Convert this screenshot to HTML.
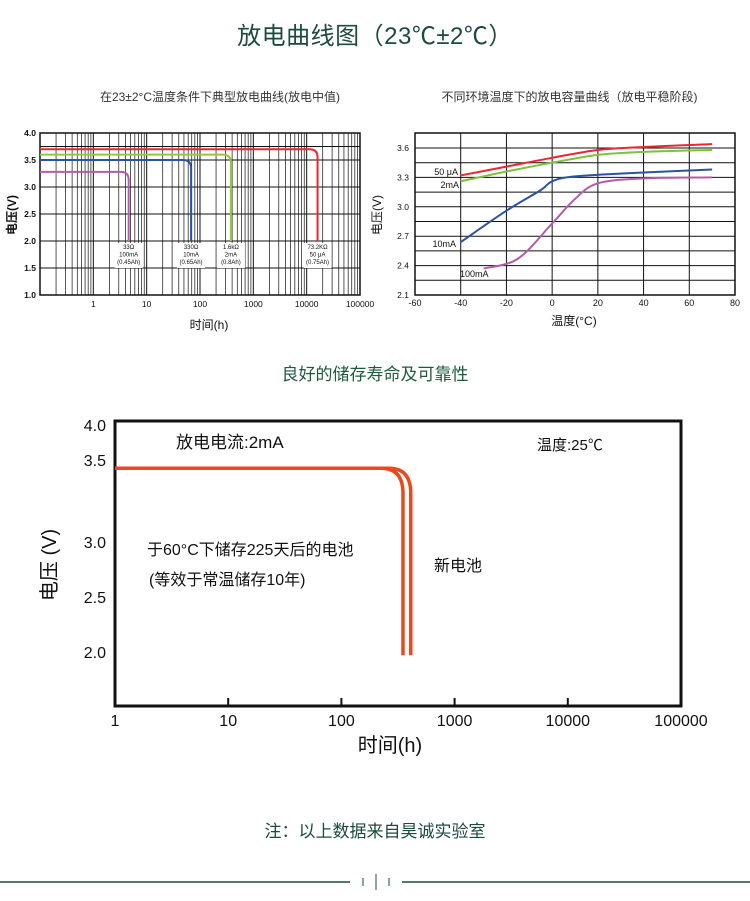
<!DOCTYPE html>
<html><head><meta charset="utf-8">
<style>
html,body{margin:0;padding:0;background:#fff;}
body{width:750px;height:901px;position:relative;overflow:hidden;font-family:"Liberation Sans","Noto Sans CJK SC",sans-serif;}
.t{position:absolute;white-space:nowrap;}
</style></head>
<body>
<div class="t" style="left:0;width:750px;text-align:center;top:16px;font-size:24px;color:#1d4a3e;letter-spacing:0.5px;">放电曲线图（23℃±2℃）</div>
<div class="t" style="left:92px;width:256px;text-align:center;top:88px;font-size:12px;color:#333;">在23±2°C温度条件下典型放电曲线(放电中值)</div>
<div class="t" style="left:432px;width:275px;text-align:center;top:88px;font-size:12px;color:#333;">不同环境温度下的放电容量曲线（放电平稳阶段)</div>
<div class="t" style="left:0;width:750px;text-align:center;top:360px;font-size:17px;color:#1d5a40;">良好的储存寿命及可靠性</div>
<div class="t" style="left:0;width:750px;text-align:center;top:817px;font-size:17px;color:#1d4a3e;">注：以上数据来自昊诚实验室</div>

<svg id="svg" width="750" height="901" style="position:absolute;left:0;top:0;" xmlns="http://www.w3.org/2000/svg"></svg>

<script>
// ---- Left chart data (discharge at 23°C) ----
const lcLoads = ["33Ω","330Ω","1.6kΩ","73.2KΩ"];
const lcCurrents = ["100mA","10mA","2mA","50 μA"];
const lcCaps = ["(0.45Ah)","(0.65Ah)","(0.8Ah)","(0.75Ah)"];
const lcPlateau = [3.28, 3.5, 3.6, 3.7];
const lcEndHours = [4.6, 68, 380, 16000];
const lcColors = ["#b45cab","#2b53a0","#94c83c","#e8272e"];
const lcYTicks = [1.0,1.5,2.0,2.5,3.0,3.5,4.0];
const lcXTicks = [1,10,100,1000,10000,100000];

// ---- Right chart data (voltage vs temperature) ----
const rcNames = ["50 μA","2mA","10mA","100mA"];
const rcTemps50uA = [-40,-20,0,20,40,70];
const rcVolts50uA = [3.32,3.41,3.50,3.58,3.61,3.64];
const rcTemps2mA = [-40,-20,0,20,40,70];
const rcVolts2mA = [3.26,3.36,3.45,3.53,3.56,3.58];
const rcTemps10mA = [-40,-20,-5,0,10,40,70];
const rcVolts10mA = [2.64,2.96,3.17,3.26,3.31,3.35,3.38];
const rcTemps100mA = [-30,-15,0,10,20,40,70];
const rcVolts100mA = [2.37,2.47,2.83,3.08,3.24,3.29,3.30];
const rcXTicks = [-60,-40,-20,0,20,40,60,80];
const rcYTicks = [2.1,2.4,2.7,3.0,3.3,3.6];

// ---- Bottom chart data (storage) ----
const bcYTicks = [2.0,2.5,3.0,3.5,4.0];
const bcXTicks = [1,10,100,1000,10000,100000];
const bcPlateau = [3.45, 3.45];
const bcEndHours = [350, 410];

const NS="http://www.w3.org/2000/svg";
const svg=document.getElementById('svg');
function mk(tag,attrs,parent){const e=document.createElementNS(NS,tag);for(const k in attrs)e.setAttribute(k,attrs[k]);(parent||svg).appendChild(e);return e;}
function txt(x,y,s,size,anchor,extra){const e=mk('text',Object.assign({x:x,y:y,'font-size':size,'text-anchor':anchor||'middle','font-family':'"Liberation Sans","Noto Sans CJK SC",sans-serif',fill:'#111'},extra||{}));e.textContent=s;return e;}
function smooth(pts){let d='M'+pts[0][0]+','+pts[0][1];for(let i=0;i<pts.length-1;i++){const p0=pts[i-1]||pts[i],p1=pts[i],p2=pts[i+1],p3=pts[i+2]||p2;const c1x=p1[0]+(p2[0]-p0[0])/6,c1y=p1[1]+(p2[1]-p0[1])/6,c2x=p2[0]-(p3[0]-p1[0])/6,c2y=p2[1]-(p3[1]-p1[1])/6;d+=' C'+c1x+','+c1y+' '+c2x+','+c2y+' '+p2[0]+','+p2[1];}return d;}

// ===== Left chart =====
const L={x0:40,x1:360,y0:133,y1:295};
const lx=h=>L.x0+(Math.log10(h)+1)/6*(L.x1-L.x0);
const ly=v=>L.y1-(v-1)/3*(L.y1-L.y0);
let g=mk('g',{});


for(let d=-1;d<5;d++)for(let m=1;m<=9;m++){const h=m*Math.pow(10,d);const x=lx(h);mk('line',{x1:x,x2:x,y1:L.y0,y2:L.y1,stroke:'#111','stroke-width':m==1?1:0.7},g);}
[1.0,1.5,2.0,2.5,3.0,3.5,3.75,4.0].forEach(v=>mk('line',{x1:L.x0,x2:L.x1,y1:ly(v),y2:ly(v),stroke:'#111','stroke-width':1},g));
mk('rect',{x:L.x0,y:L.y0,width:L.x1-L.x0,height:L.y1-L.y0,fill:'none',stroke:'#111','stroke-width':1.5},g);
lcYTicks.forEach(v=>{const t=txt(36,ly(v)+3,v.toFixed(1),8.5,'end',{'font-weight':'bold'});});
lcXTicks.forEach(h=>{const t=txt(lx(h),307,String(h),8.5,'middle');});
lcPlateau.forEach((v,i)=>{const xe=lx(lcEndHours[i]);const xb=xe-8;
 const p=mk('path',{d:'M'+L.x0+','+ly(v)+' L'+xb+','+ly(v)+' Q'+xe+','+ly(v)+' '+xe+','+(ly(v)+8)+' L'+xe+','+ly(2.0),fill:'none',stroke:lcColors[i],'stroke-width':2},g);
 
 
 mk('rect',{x:xe-14,y:ly(2.0)+2,width:28,height:25,fill:'#fff'},g);
 [lcLoads[i],lcCurrents[i],lcCaps[i]].forEach((s,k)=>txt(xe,ly(2.0)+8+k*7.5,s,6,'middle'));
});
txt(16,215,'电压(V)',12,'middle',{transform:'rotate(-90 16 215)','font-weight':'bold'});
txt(209,329,'时间(h)',12,'middle');

// ===== Right chart =====
const R={x0:415,x1:735,y0:133,y1:295};
const rx=t=>R.x0+(t+60)/140*(R.x1-R.x0);
const ry=v=>R.y1-(v-2.1)/1.5*(147);
g=mk('g',{});


rcXTicks.forEach(t=>mk('line',{x1:rx(t),x2:rx(t),y1:R.y0,y2:R.y1,stroke:'#111','stroke-width':1},g));
for(let k=0;k<=10;k++){const v=2.1+k*0.15;mk('line',{x1:R.x0,x2:R.x1,y1:ry(v),y2:ry(v),stroke:'#111','stroke-width':1},g);}
mk('rect',{x:R.x0,y:R.y0,width:R.x1-R.x0,height:R.y1-R.y0,fill:'none',stroke:'#111','stroke-width':1.5},g);
rcYTicks.forEach(v=>{const t=txt(409,ry(v)+3,v.toFixed(1),8.5,'end');});
rcXTicks.forEach(t=>{const e=txt(rx(t),306,String(t),9,'middle');});
const rcSeries=[[rcTemps50uA,rcVolts50uA,'#e8272e'],[rcTemps2mA,rcVolts2mA,'#7cc23c'],[rcTemps10mA,rcVolts10mA,'#2b53a0'],[rcTemps100mA,rcVolts100mA,'#b45cab']];
rcSeries.forEach((s,i)=>{const pts=s[0].map((t,k)=>[rx(t),ry(s[1][k])]);
 const p=mk('path',{d:smooth(pts),fill:'none',stroke:s[2],'stroke-width':2},g);
 
 });
txt(458,175,rcNames[0],9,'end');txt(459,188,rcNames[1],9,'end');txt(456,247,rcNames[2],9,'end');txt(460,277,rcNames[3],9,'start');
txt(381,215,'电压(V)',12,'middle',{transform:'rotate(-90 381 215)'});
txt(574,325,'温度(°C)',12,'middle');

// ===== Bottom chart =====
const B={x0:115,x1:681,y0:421,y1:706};
const bx=h=>B.x0+Math.log10(h)/5*(B.x1-B.x0);
// piecewise-linear y axis matching the reference's tick spacing
const bAxV=[2.0,3.0,3.5,4.0], bAxP=[652,542,460,425];
const by=v=>{for(let i=0;i<bAxV.length-1;i++){if(v<=bAxV[i+1]||i==bAxV.length-2){return bAxP[i]+(v-bAxV[i])/(bAxV[i+1]-bAxV[i])*(bAxP[i+1]-bAxP[i]);}}};
g=mk('g',{});


mk('rect',{x:B.x0,y:B.y0,width:B.x1-B.x0,height:B.y1-B.y0,fill:'none',stroke:'#111','stroke-width':3},g);
bcXTicks.forEach(h=>{if(h>1&&h<100000)mk('line',{x1:bx(h),x2:bx(h),y1:B.y1,y2:B.y1-8,stroke:'#111','stroke-width':2},g);
 const t=txt(bx(h),726,String(h),16,'middle');});
bcYTicks.forEach(v=>{const t=txt(106,by(v)+6,v.toFixed(1),16,'end');});
bcPlateau.forEach((v,i)=>{const xe=bx(bcEndHours[i]);const y=by(v);
 const p=mk('path',{d:'M'+B.x0+','+y+' L'+(xe-22)+','+y+' Q'+xe+','+y+' '+xe+','+(y+25)+' L'+xe+','+by(1.97),fill:'none',stroke:'#e84a1f','stroke-width':3.5},g);
 
 });
txt(176,448,'放电电流:2mA',17,'start');
txt(537,450,'温度:25℃',15,'start');
txt(147,555,'于60°C下储存225天后的电池',16,'start');
txt(149,585,'(等效于常温储存10年)',16,'start');
txt(434,571,'新电池',16,'start');
txt(56,565,'电压 (V)',20,'middle',{transform:'rotate(-90 56 565)'});
txt(390,752,'时间(h)',20,'middle');

// ===== Footer divider =====
g=mk('g',{});


mk('line',{x1:0,x2:350,y1:882,y2:882,stroke:'#1d4a3e','stroke-width':1.5},g);
mk('line',{x1:402,x2:750,y1:882,y2:882,stroke:'#1d4a3e','stroke-width':1.5},g);
mk('line',{x1:363,x2:363,y1:878,y2:886,stroke:'#1d4a3e','stroke-width':1},g);
mk('line',{x1:376,x2:376,y1:874,y2:890,stroke:'#1d4a3e','stroke-width':1},g);
mk('line',{x1:389,x2:389,y1:878,y2:886,stroke:'#1d4a3e','stroke-width':1},g);
</script>
</body></html>
